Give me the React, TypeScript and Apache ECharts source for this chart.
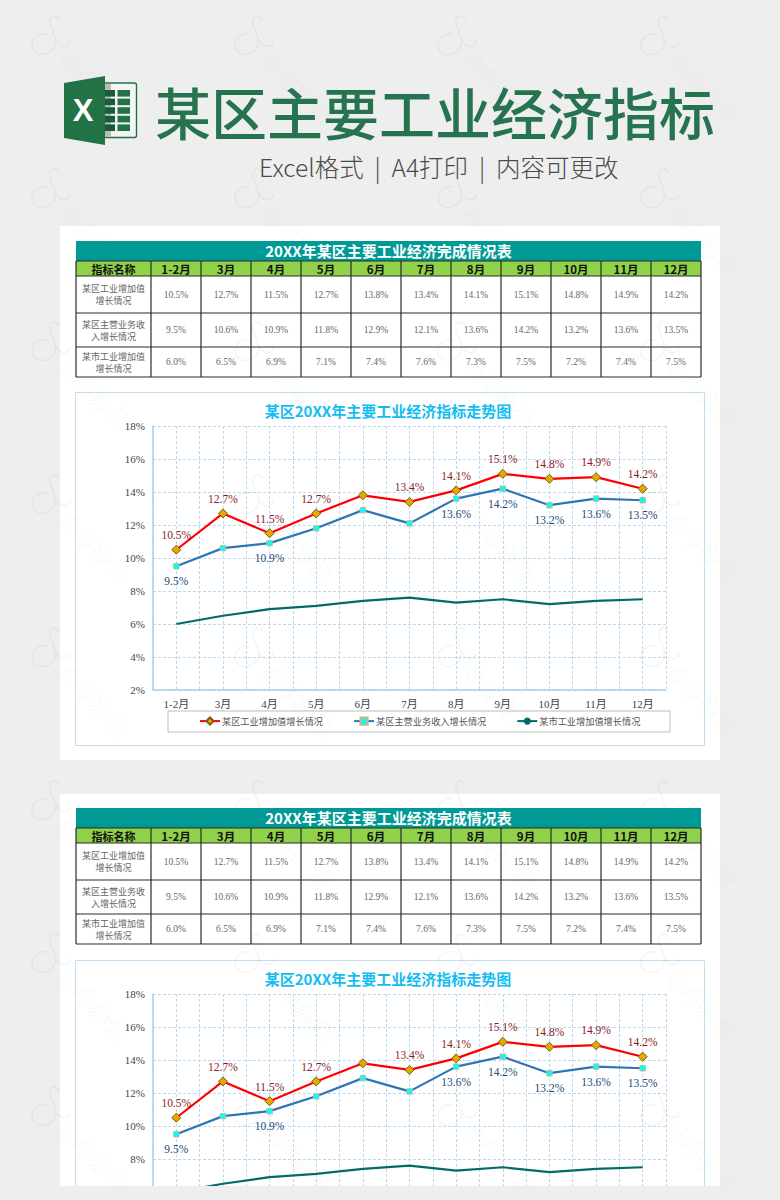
import React, { useEffect, useRef } from "react";
import * as echarts from "echarts";

const tableTitle = "20XX年某区主要工业经济完成情况表";
const chartTitle = "某区20XX年主要工业经济指标走势图";
const heading = "某区主要工业经济指标";
const subheading = "Excel格式  |  A4打印  |  内容可更改";
const cornerHeader = "指标名称";
const months = ["1-2月", "3月", "4月", "5月", "6月", "7月", "8月", "9月", "10月", "11月", "12月"];
const nameA = "某区工业增加值增长情况";
const nameB = "某区主营业务收入增长情况";
const nameC = "某市工业增加值增长情况";
const rowLabelA = "某区工业增加值\n增长情况";
const rowLabelB = "某区主营业务收\n入增长情况";
const rowLabelC = "某市工业增加值\n增长情况";
const valuesA = [10.5, 12.7, 11.5, 12.7, 13.8, 13.4, 14.1, 15.1, 14.8, 14.9, 14.2];
const valuesB = [9.5, 10.6, 10.9, 11.8, 12.9, 12.1, 13.6, 14.2, 13.2, 13.6, 13.5];
const valuesC = [6.0, 6.5, 6.9, 7.1, 7.4, 7.6, 7.3, 7.5, 7.2, 7.4, 7.5];
const hiddenLabelsA = [4];
const shownLabelsB = [0, 2, 6, 7, 8, 9, 10];

const SANS = '"Noto Sans CJK SC", "Noto Sans", sans-serif';
const SERIF = '"Liberation Serif", "Noto Sans CJK SC", serif';
const BORDER = "#2b2b2b";
const pct = (v: number) => v.toFixed(1) + "%";

echarts.graphic.registerShape(
  "wmCurl",
  echarts.graphic.extendPath(
    "M 0 -3 C -8 -5 -15 1 -15 8 C -15 15 -8 19 -1 17 C 6 15 10 8 8 1 C 6 -7 1 -14 3 -18 C 5 -22 11 -22 12 -17 M 8 1 C 10 7 14 11 20 9 C 22 8 23 6 23 4",
    {}
  )
);

function tableElements(y0: number): any[] {
  const x0 = 76;
  const firstW = 75;
  const colW = 50;
  const rows: [string, number[], number, number][] = [
    [rowLabelA, valuesA, y0 + 35, 37],
    [rowLabelB, valuesB, y0 + 72, 34],
    [rowLabelC, valuesC, y0 + 106, 30],
  ];
  const right = x0 + firstW + colW * months.length;
  const out: any[] = [
    { type: "rect", z: -5, shape: { x: x0, y: y0, width: right - x0, height: 20 }, style: { fill: "#009a96" } },
    { type: "text", z: 5, x: (x0 + right) / 2, y: y0 + 9.5, style: { text: tableTitle, fill: "#ffffff", font: `bold 15px ${SANS}`, align: "center", verticalAlign: "middle" } },
    { type: "rect", z: -5, shape: { x: x0, y: y0 + 20, width: right - x0, height: 15 }, style: { fill: "#90d24a" } },
    { type: "text", z: 5, x: x0 + firstW / 2, y: y0 + 27.5, style: { text: cornerHeader, fill: "#111111", font: `bold 11px ${SANS}`, align: "center", verticalAlign: "middle" } },
  ];
  months.forEach((m, i) => {
    out.push({ type: "text", z: 5, x: x0 + firstW + colW * (i + 0.5), y: y0 + 27.5, style: { text: m, fill: "#111111", font: `bold 11.5px ${SANS}`, align: "center", verticalAlign: "middle" } });
  });
  const hLines = [y0 + 20, y0 + 35, y0 + 72, y0 + 106, y0 + 136];
  hLines.forEach((y) => {
    out.push({ type: "line", z: 4, shape: { x1: x0, y1: y, x2: right, y2: y }, style: { stroke: BORDER, lineWidth: 1.2 } });
  });
  for (let i = 0; i <= months.length + 1; i++) {
    const x = i === 0 ? x0 : x0 + firstW + colW * (i - 1);
    out.push({ type: "line", z: 4, shape: { x1: x, y1: y0 + 20, x2: x, y2: y0 + 136 }, style: { stroke: BORDER, lineWidth: 1.2 } });
  }
  rows.forEach(([label, vals, y, h]) => {
    out.push({ type: "text", z: 5, x: x0 + firstW / 2, y: y + h / 2, style: { text: label, fill: "#666666", font: `9px ${SANS}`, lineHeight: 12, align: "center", verticalAlign: "middle" } });
    vals.forEach((v, i) => {
      out.push({ type: "text", z: 5, x: x0 + firstW + colW * (i + 0.5), y: y + h / 2, style: { text: pct(v), fill: "#666666", font: `9.5px ${SERIF}`, align: "center", verticalAlign: "middle" } });
    });
  });
  return out;
}

function logoElements(): any[] {
  const out: any[] = [
    { type: "rect", z: -4, shape: { x: 100, y: 83, width: 36.5, height: 54.5, r: 2 }, style: { fill: "#f4f4f4", stroke: "#217346", lineWidth: 1.4 } },
    { type: "rect", z: -4, shape: { x: 105, y: 84, width: 6, height: 53 }, style: { fill: "#bdbdbd" } },
  ];
  for (let r = 0; r < 5; r++) {
    const y = 90 + r * 8.6;
    out.push({ type: "rect", z: -3, shape: { x: 105, y, width: 10, height: 6.6 }, style: { fill: "#185c37" } });
    out.push({ type: "rect", z: -3, shape: { x: 117.5, y, width: 12.5, height: 6.6 }, style: { fill: "#217346" } });
  }
  out.push(
    { type: "polygon", z: -2, shape: { points: [[64, 83], [105, 76], [105, 145], [64, 138]] }, style: { fill: "#217346" } },
    { type: "text", z: 5, x: 83, y: 110, style: { text: "X", fill: "#ffffff", font: `bold 31px "Liberation Sans", sans-serif`, align: "center", verticalAlign: "middle" } }
  );
  return out;
}

function watermarkElements(): any[] {
  const out: any[] = [];
  for (let row = 0; row < 8; row++) {
    for (let col = 0; col < 4; col++) {
      const cx = 47 + col * 203;
      const cy = 37 + row * 153;
      out.push({ type: "wmCurl", z: 90, silent: true, x: cx, y: cy, style: { fill: "none", stroke: "rgba(120,120,120,0.07)", lineWidth: 1.6 } });
      out.push({ type: "text", z: 90, silent: true, x: cx + 48, y: cy + 50, rotation: -Math.PI / 4, style: { text: "小牛办公", fill: "rgba(255,255,255,0)", stroke: "rgba(120,120,120,0.07)", lineWidth: 0.8, font: `bold 22px ${SANS}`, align: "center", verticalAlign: "middle" } });
    }
  }
  return out;
}

function buildSeries(gridIndexOffset: number) {
  const xAxisIndex = gridIndexOffset * 2;
  const yAxisIndex = gridIndexOffset;
  return [
    {
      type: "line", name: nameA, xAxisIndex, yAxisIndex, data: valuesA, symbol: "diamond", symbolSize: 9,
      lineStyle: { color: "#ff0000", width: 2.2 },
      itemStyle: { color: "#e8a800", borderColor: "#7a5c10", borderWidth: 1 },
      label: {
        show: true, position: "top", distance: 4, color: "#8c1a1f", fontSize: 11.5, fontFamily: SERIF,
        formatter: (p: any) => (hiddenLabelsA.includes(p.dataIndex) ? "" : pct(p.value)),
      },
    },
    {
      type: "line", name: nameB, xAxisIndex, yAxisIndex, data: valuesB, symbol: "rect", symbolSize: 5.5,
      lineStyle: { color: "#2e75b6", width: 2.2 },
      itemStyle: { color: "#00ffff", borderColor: "#d9b27c", borderWidth: 0.8 },
      label: {
        show: true, position: "bottom", distance: 6, color: "#1a4a78", fontSize: 11.5, fontFamily: SERIF,
        formatter: (p: any) => (shownLabelsB.includes(p.dataIndex) ? pct(p.value) : ""),
      },
    },
    {
      type: "line", name: nameC, xAxisIndex, yAxisIndex, data: valuesC, symbol: "none",
      lineStyle: { color: "#006b68", width: 2.2 },
      itemStyle: { color: "#006b68" },
    },
  ];
}

function buildAxes() {
  const dashed = { show: true, lineStyle: { color: "#bcd9ef", type: [3, 2] as any, width: 1 } };
  const cat = (gridIndex: number, showLabel: boolean) => ({
    type: "category", gridIndex, data: months, boundaryGap: true, position: "bottom",
    axisLine: { show: showLabel, lineStyle: { color: "#a9d0ec", width: 1.5 } },
    axisTick: { show: false },
    axisLabel: { show: showLabel, color: "#444444", fontSize: 11, fontFamily: SERIF, margin: 8 },
    splitLine: { show: false },
  });
  const half = (gridIndex: number) => ({
    type: "value", gridIndex, min: 0, max: months.length * 2, interval: 1, position: "top",
    axisLine: { show: false }, axisTick: { show: false }, axisLabel: { show: false },
    splitLine: dashed,
  });
  const y = (gridIndex: number, min: number, lowestLabel: number) => ({
    type: "value", gridIndex, min, max: 18, interval: 2,
    axisLine: { show: true, lineStyle: { color: "#a9d0ec", width: 1.5 } },
    axisTick: { show: false },
    axisLabel: {
      color: "#444444", fontSize: 11, fontFamily: SERIF, margin: 8,
      formatter: (v: number) => (v >= lowestLabel ? v + "%" : ""),
    },
    splitLine: dashed,
  });
  return {
    xAxis: [cat(0, true), half(0), cat(1, false), half(1)],
    yAxis: [y(0, 2, 2), y(1, 6, 8)],
  };
}

export default function App() {
  const ref = useRef<HTMLDivElement>(null);
  useEffect(() => {
    document.body.style.margin = "0";
    const chart = echarts.init(ref.current!, undefined, { renderer: "svg" });
    const axes = buildAxes();
    chart.setOption({
      animation: false,
      backgroundColor: "#eeeeee",
      title: [chartTitle, chartTitle].map((text, i) => ({
        text, left: 388, top: i === 0 ? 401 : 969, textAlign: "center", padding: 0,
        textStyle: { color: "#14bdf0", fontSize: 15, fontWeight: "bold", fontFamily: SANS, lineHeight: 18 },
      })),
      grid: [
        { left: 153, top: 426, width: 513, height: 264 },
        { left: 153, top: 994, width: 513, height: 198 },
      ],
      xAxis: axes.xAxis,
      yAxis: axes.yAxis,
      legend: {
        left: 199, top: 716.5, itemWidth: 20, itemHeight: 9, itemGap: 30, padding: 0, selectedMode: false,
        data: [nameA, nameB, nameC],
        textStyle: { color: "#555555", fontSize: 9.2, fontFamily: SANS, padding: [0, 0, 0, -3] },
      },
      series: [...buildSeries(0), ...buildSeries(1)],
      graphic: {
        elements: [
          { type: "rect", z: -10, shape: { x: 60, y: 226, width: 660, height: 534 }, style: { fill: "#ffffff" } },
          { type: "rect", z: -10, shape: { x: 60, y: 794, width: 660, height: 392 }, style: { fill: "#ffffff" } },
          { type: "rect", z: -9, shape: { x: 75.5, y: 392.5, width: 629, height: 353 }, style: { fill: "#ffffff", stroke: "#bfe0f2", lineWidth: 1 } },
          { type: "rect", z: -9, shape: { x: 75.5, y: 960.5, width: 629, height: 300 }, style: { fill: "#ffffff", stroke: "#bfe0f2", lineWidth: 1 } },
          { type: "rect", z: -8, shape: { x: 168, y: 711, width: 502, height: 21 }, style: { fill: "#ffffff", stroke: "#bdbdbd", lineWidth: 1 } },
          ...logoElements(),
          { type: "text", z: 5, x: 155, y: 110, style: { text: heading, fill: "#26734f", font: `500 56px ${SANS}`, align: "left", verticalAlign: "middle" } },
          { type: "text", z: 5, x: 259, y: 166, style: { text: subheading, fill: "#4a4a4a", font: `300 24.5px ${SANS}`, align: "left", verticalAlign: "middle" } },
          ...tableElements(241),
          ...tableElements(808),
          { type: "rect", z: 60, shape: { x: 0, y: 1186, width: 780, height: 14 }, style: { fill: "#eeeeee" } },
          ...watermarkElements(),
        ],
      },
    });
    return () => chart.dispose();
  }, []);
  return <div ref={ref} style={{ width: 780, height: 1200 }} />;
}
